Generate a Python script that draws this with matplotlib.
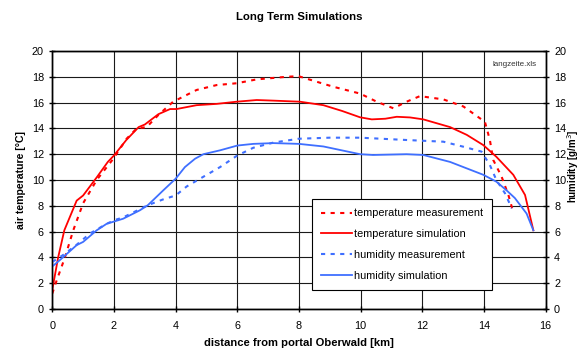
import matplotlib
matplotlib.use("Agg")
import matplotlib.pyplot as plt

plt.rcParams['font.family'] = ['Liberation Sans', 'DejaVu Sans']

temp_sim_x = [0, 0.19, 0.39, 0.79, 1.0, 1.44, 1.8, 2.0, 2.4, 2.8, 3.0, 3.44, 3.82, 4.03, 4.68, 5.33,
              5.98, 6.63, 7.2, 7.71, 8.03, 8.79, 9.4, 9.98, 10.36, 10.8, 11.17, 11.6, 12.03, 12.9,
              13.44, 13.98, 14.4, 14.95, 15.33, 15.6]
temp_sim_y = [1.5, 4.0, 6.1, 8.4, 8.8, 10.2, 11.4, 11.9, 13.1, 14.1, 14.3, 15.1, 15.5, 15.5, 15.8, 15.9,
              16.07, 16.2, 16.15, 16.1, 16.07, 15.8, 15.35, 14.86, 14.7, 14.75, 14.9, 14.85, 14.7, 14.1,
              13.5, 12.7, 11.8, 10.4, 8.84, 6.1]

temp_meas_x = [0, 0.14, 0.41, 0.68, 1.0, 1.44, 1.98, 2.41, 2.74, 3.06, 3.44, 3.92, 4.68, 5.33, 5.98,
               6.63, 7.6, 7.98, 8.46, 9.11, 9.98, 10.52, 11.06, 11.49, 11.92, 12.68, 13.33, 13.87,
               14.03, 14.19, 14.3, 14.57, 14.79, 14.95]
temp_meas_y = [1.2, 2.2, 4.0, 6.1, 8.2, 10.0, 11.65, 13.2, 14.0, 14.1, 15.04, 16.07, 16.98, 17.36, 17.5,
               17.8, 18.0, 18.05, 17.7, 17.23, 16.7, 16.07, 15.56, 16.07, 16.5, 16.25, 15.7, 14.78,
               14.5, 13.1, 11.55, 10.26, 8.84, 7.5]

hum_sim_x = [0, 0.25, 0.79, 1.0, 1.44, 1.76, 2.03, 2.3, 2.84, 3.1, 3.6, 4.0, 4.3, 4.63, 4.9, 5.44,
             6.0, 6.52, 7.17, 8.0, 8.79, 9.98, 10.4, 11.49, 12.03, 12.9, 13.44, 13.98, 14.4, 14.73,
             15.0, 15.38, 15.6]
hum_sim_y = [3.3, 3.8, 4.95, 5.2, 6.1, 6.6, 6.8, 7.0, 7.65, 8.05, 9.2, 10.1, 11.0, 11.65, 12.0, 12.3,
             12.67, 12.8, 12.86, 12.8, 12.6, 12.0, 11.94, 12.0, 11.94, 11.4, 10.9, 10.4, 9.87, 9.2,
             8.6, 7.4, 6.1]

hum_meas_x = [0, 0.36, 0.8, 1.22, 1.76, 2.03, 2.3, 3.1, 3.6, 4.0, 4.36, 4.79, 5.44, 6.0, 6.52, 7.17,
              8.0, 9.0, 9.98, 11.49, 12.68, 13.33, 13.92, 14.19, 14.4, 14.68, 14.9]
hum_meas_y = [3.65, 4.2, 5.0, 5.85, 6.6, 6.9, 7.1, 8.05, 8.5, 8.8, 9.5, 10.1, 11.0, 11.9, 12.5, 12.9,
              13.2, 13.28, 13.28, 13.1, 12.97, 12.58, 12.2, 11.16, 10.0, 8.97, 7.8]

x_ticks = [0, 2, 4, 6, 8, 10, 12, 14, 16]
y_ticks = [0, 2, 4, 6, 8, 10, 12, 14, 16, 18, 20]

RED = '#ff0000'
BLUE = '#3f6fff'

fig = plt.figure(figsize=(5.83, 3.51), dpi=100)
ax = fig.add_axes([0.0897, 0.1197, 0.8463, 0.735])
ax2 = ax.twinx()

ax.set_xlim(0, 16)
ax.set_ylim(0, 20)
ax2.set_ylim(0, 20)
ax.set_xticks(x_ticks)
ax.set_yticks(y_ticks)
ax2.set_yticks(y_ticks)
ax.grid(True, color='#1a1a1a', linewidth=0.8)
ax.set_axisbelow(True)

for a in (ax, ax2):
    for s in a.spines.values():
        s.set_linewidth(1.0)
        s.set_color('black')
    a.tick_params(direction='inout', length=5, width=1, labelsize=7.8, colors='black')
ax.tick_params(axis='x', pad=6)

l1, = ax.plot(temp_meas_x, temp_meas_y, color=RED, lw=1.5, dashes=(2, 2.6), label='temperature measurement')
l2, = ax.plot(temp_sim_x, temp_sim_y, color=RED, lw=1.3, label='temperature simulation')
l3, = ax2.plot(hum_meas_x, hum_meas_y, color=BLUE, lw=1.5, dashes=(2, 2.6), label='humidity measurement')
l4, = ax2.plot(hum_sim_x, hum_sim_y, color=BLUE, lw=1.3, label='humidity simulation')

leg = ax2.legend(handles=[l1, l2, l3, l4], loc='upper left', bbox_to_anchor=(0.526, 0.426),
                 fontsize=7.8, frameon=True, fancybox=False, edgecolor='black', framealpha=1,
                 handlelength=2.9, handletextpad=0.15, labelspacing=1.0, borderpad=0.85,
                 borderaxespad=0)
leg.get_frame().set_linewidth(0.8)

ax.set_xlabel('distance from portal Oberwald [km]', fontsize=8.1, fontweight='bold', labelpad=5)
fig.text(0.036, 0.4872, 'air temperature [°C]', rotation=90, ha='center', va='center',
         fontsize=7.6, fontweight='bold')
fig.text(0.996, 0.525, 'humidity [g/m$^3$]', rotation=90, ha='right', va='center',
         fontsize=7.0, fontweight='bold')
fig.text(0.514, 0.952, 'Long Term Simulations', ha='center', va='center', fontsize=8.2, fontweight='bold')
ax.text(0.982, 0.946, 'langzeite.xls', transform=ax.transAxes, ha='right', va='center', fontsize=5.8,
        color='#333333')

fig.savefig('out.png', dpi=100)
